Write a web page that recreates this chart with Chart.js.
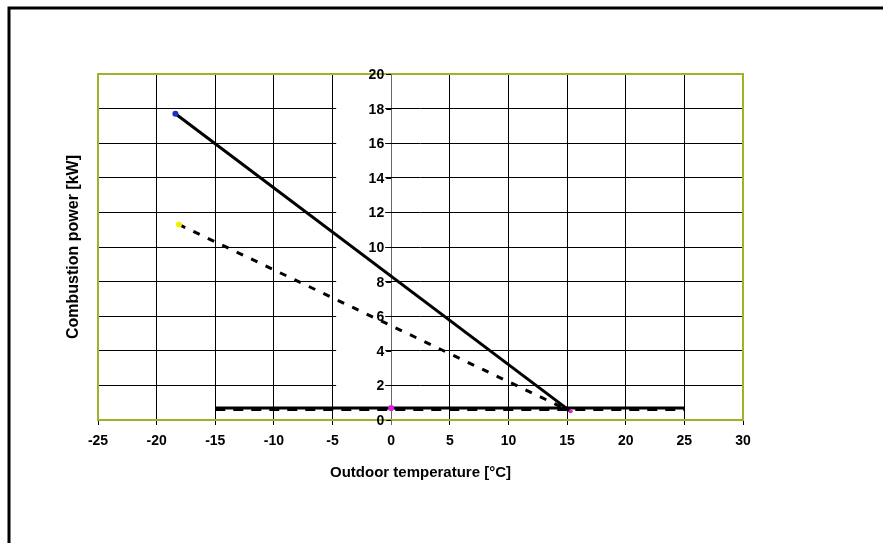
<!DOCTYPE html>
<html>
<head>
<meta charset="utf-8">
<script src="https://cdn.jsdelivr.net/npm/chart.js@4"></script>
<style>
  html, body { margin: 0; padding: 0; background: #fff; }
  #wrap { width: 883px; height: 543px; }
</style>
</head>
<body>
<div id="wrap"><canvas id="chart" width="883" height="543"></canvas></div>
<script>
  // ---- Data ----
  var X_TICKS = [-25, -20, -15, -10, -5, 0, 5, 10, 15, 20, 25, 30];
  var Y_TICKS = [0, 2, 4, 6, 8, 10, 12, 14, 16, 18, 20];

  var maxLineX = [-18.4, 15.3];
  var maxLineY = [17.7, 0.5];

  var minLineX = [-18.1, 15.3];
  var minLineY = [11.3, 0.5];

  var baseSolidX = [-15, 0, 25];
  var baseSolidY = [0.7, 0.7, 0.7];

  var baseDashX = [-15, 0, 25];
  var baseDashY = [0.6, 0.6, 0.6];

  function pts(xs, ys) {
    return xs.map(function (x, i) { return { x: x, y: ys[i] }; });
  }

  var FONT = "'Liberation Sans', Arial, sans-serif";

  // ---- Plot frame, y labels at x=0, outer border ----
  var framePlugin = {
    id: 'frame',
    beforeDatasetsDraw: function (chart) {
      var ctx = chart.ctx;
      var a = chart.chartArea;
      var xs = chart.scales.x;
      var ys = chart.scales.y;
      var x0 = xs.getPixelForValue(0);

      ctx.save();
      // label backgrounds blank the grid behind the y labels
      ctx.fillStyle = '#fff';
      Y_TICKS.forEach(function (v) {
        var y = Math.round(ys.getPixelForValue(v)) + 0.5;
        ctx.fillRect(x0 - 55, y - 7, 49, 14);
      });

      // olive plot border
      ctx.strokeStyle = '#9bb52a';
      ctx.lineWidth = 2;
      ctx.strokeRect(a.left, a.top, a.right - a.left, a.bottom - a.top);

      // y axis ticks + labels at x = 0
      ctx.strokeStyle = '#000';
      ctx.lineWidth = 1;
      ctx.fillStyle = '#000';
      ctx.font = 'bold 14px ' + FONT;
      ctx.textAlign = 'right';
      ctx.textBaseline = 'middle';
      Y_TICKS.forEach(function (v) {
        var y = Math.round(ys.getPixelForValue(v)) + 0.5;
        ctx.beginPath();
        ctx.moveTo(x0 - 5, y);
        ctx.lineTo(x0, y);
        ctx.stroke();
        ctx.fillText(String(v), x0 - 7, y + 1);
      });
      ctx.restore();
    },
    afterDraw: function (chart) {
      var ctx = chart.ctx;
      ctx.save();
      ctx.strokeStyle = '#000';
      ctx.lineWidth = 3;
      ctx.beginPath();
      ctx.moveTo(9, 543);
      ctx.lineTo(9, 8);
      ctx.lineTo(883, 8);
      ctx.stroke();
      ctx.restore();
    }
  };

  new Chart(document.getElementById('chart').getContext('2d'), {
    type: 'scatter',
    data: {
      datasets: [
        {
          label: 'max',
          data: pts(maxLineX, maxLineY),
          showLine: true,
          borderColor: '#000',
          borderWidth: 3,
          pointRadius: [3, 2],
          pointBackgroundColor: ['#1f2fbf', '#e020e0'],
          pointBorderWidth: 0
        },
        {
          label: 'min',
          data: pts(minLineX, minLineY),
          showLine: true,
          borderColor: '#000',
          borderWidth: 3,
          borderDash: [7, 9],
          pointRadius: [3, 2],
          pointBackgroundColor: ['#f5f000', '#f5f000'],
          pointBorderWidth: 0
        },
        {
          label: 'base',
          data: pts(baseSolidX, baseSolidY),
          showLine: true,
          borderColor: '#000',
          borderWidth: 3,
          pointRadius: [0, 3, 0],
          pointBackgroundColor: '#e020e0',
          pointBorderWidth: 0
        },
        {
          label: 'base2',
          data: pts(baseDashX, baseDashY),
          showLine: true,
          borderColor: '#000',
          borderWidth: 3,
          borderDash: [10, 8],
          pointRadius: [0, 2, 0],
          pointBackgroundColor: '#20d0e0',
          pointBorderWidth: 0
        }
      ]
    },
    options: {
      responsive: false,
      animation: false,
      devicePixelRatio: 1,
      layout: { padding: { left: 62, right: 140, top: 74, bottom: 57 } },
      plugins: {
        legend: { display: false },
        tooltip: { enabled: false }
      },
      scales: {
        x: {
          type: 'linear',
          min: -25,
          max: 30,
          afterBuildTicks: function (scale) {
            scale.ticks = X_TICKS.map(function (v) { return { value: v }; });
          },
          afterFit: function (scale) { scale.height = 66; },
          grid: {
            color: function (c) { return c.tick && c.tick.value === 0 ? '#666' : '#000'; },
            lineWidth: 1,
            drawTicks: true,
            tickLength: 5
          },
          border: { display: false },
          ticks: {
            color: '#000',
            padding: 8,
            maxRotation: 0,
            font: { family: FONT, size: 14, weight: 'bold' }
          },
          title: {
            display: true,
            text: 'Outdoor temperature [°C]',
            color: '#000',
            padding: { top: 1, bottom: 4 },
            font: { family: FONT, size: 15, weight: 'bold' }
          }
        },
        y: {
          type: 'linear',
          min: 0,
          max: 20,
          afterBuildTicks: function (scale) {
            scale.ticks = Y_TICKS.map(function (v) { return { value: v }; });
          },
          afterFit: function (scale) { scale.width = 36; },
          grid: {
            color: '#000',
            lineWidth: 1,
            drawTicks: false
          },
          border: { display: false },
          ticks: { display: false },
          title: {
            display: true,
            text: 'Combustion power [kW]',
            color: '#000',
            padding: { top: 2, bottom: 4 },
            font: { family: FONT, size: 16, weight: 'bold' }
          }
        }
      }
    },
    plugins: [framePlugin]
  });
</script>
</body>
</html>
